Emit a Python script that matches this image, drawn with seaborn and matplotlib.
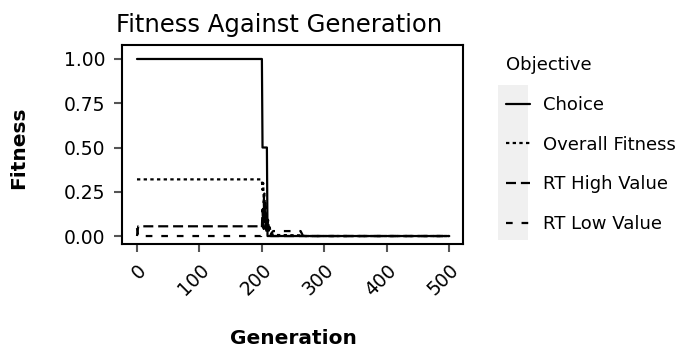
import numpy as np
import pandas as pd
import matplotlib
matplotlib.use("Agg")
import matplotlib.pyplot as plt
from matplotlib.patches import Rectangle
import seaborn as sns

# ---- data (breakpoints) ----
choice_gen = [0, 200, 201, 208, 209, 500]
choice_val = [1.0, 1.0, 0.5, 0.5, 0.0, 0.0]

overall_gen = [0, 199, 200, 201, 202, 203, 204, 205, 206, 207, 208, 209, 210, 211, 212, 214, 216, 220, 260, 270, 500]
overall_val = [0.32, 0.32, 0.31, 0.26, 0.30, 0.20, 0.24, 0.15, 0.19, 0.08, 0.12, 0.05, 0.09, 0.03, 0.06, 0.02, 0.01, 0.006, 0.004, 0.0, 0.0]

high_gen = [0, 2, 199, 200, 201, 202, 203, 204, 205, 206, 207, 208, 210, 212, 214, 500]
high_val = [0.0, 0.055, 0.055, 0.05, 0.15, 0.05, 0.20, 0.08, 0.17, 0.04, 0.10, 0.02, 0.06, 0.01, 0.0, 0.0]

low_gen = [0, 2, 199, 200, 201, 203, 205, 207, 209, 211, 213, 215, 218, 262, 266, 500]
low_val = [0.045, 0.0, 0.0, 0.02, 0.10, 0.04, 0.13, 0.03, 0.08, 0.02, 0.0, 0.015, 0.028, 0.028, 0.0, 0.0]

series_names = ["Choice", "Overall Fitness", "RT High Value", "RT Low Value"]
x_ticks = [0, 100, 200, 300, 400, 500]
y_ticks = [0.00, 0.25, 0.50, 0.75, 1.00]

frames = []
for name, g, v in zip(series_names,
                      [choice_gen, overall_gen, high_gen, low_gen],
                      [choice_val, overall_val, high_val, low_val]):
    frames.append(pd.DataFrame({"Generation": g, "Fitness": v, "Objective": name}))
df = pd.concat(frames, ignore_index=True)

sns.set_style("white")
plt.rcParams["font.family"] = ["DejaVu Sans"]
plt.rcParams["text.color"] = "black"
plt.rcParams["axes.labelcolor"] = "black"

W, H = 687, 347
fig = plt.figure(figsize=(W / 100, H / 100), dpi=100)
ax = fig.add_axes([122 / W, 1 - 244 / H, (463 - 122) / W, (244 - 45) / H])

dashes = {
    "Choice": "",
    "Overall Fitness": (1.5, 1.5),
    "RT High Value": (4.5, 2.2),
    "RT Low Value": (3.0, 4.0),
}
sns.lineplot(data=df, x="Generation", y="Fitness", style="Objective",
             style_order=series_names, dashes=dashes, color="black",
             estimator=None, sort=False, linewidth=1.6, ax=ax, legend=True)

ax.set_xlim(-24, 522)
ax.set_ylim(-0.045, 1.079)
ax.set_xticks(x_ticks)
ax.set_yticks(y_ticks)
ax.set_yticklabels([f"{t:.2f}" for t in y_ticks])
ax.tick_params(axis="both", which="major", labelsize=13.5, length=6, width=1.5,
               color="#555555", labelcolor="black", bottom=True, left=True)
ax.tick_params(axis="x", pad=6)
ax.tick_params(axis="y", pad=6)
for lab in ax.get_xticklabels():
    lab.set_rotation(45)
    lab.set_ha("right")
    lab.set_rotation_mode("anchor")
for sp in ax.spines.values():
    sp.set_color("black")
    sp.set_linewidth(1.5)

ax.set_xlabel("Generation", fontsize=14.5, fontweight="bold")
ax.set_ylabel("Fitness", fontsize=14.5, fontweight="bold")
ax.xaxis.set_label_coords((293 - 122) / (463 - 122), -(339 - 244) / (244 - 45))
ax.xaxis.label.set_va("center")
ax.yaxis.set_label_coords(-(122 - 19) / (463 - 122), (244 - 148) / (244 - 45))
ax.yaxis.label.set_va("center")

fig.text(279 / W, 1 - 25 / H, "Fitness Against Generation", fontsize=17.5,
         ha="center", va="center")

# legend
handles, labels = ax.get_legend_handles_labels()
ax.get_legend().remove()
fig.patches.append(Rectangle((498 / W, 1 - 240 / H), 30 / W, 155 / H,
                             transform=fig.transFigure, facecolor="#f0f0f0",
                             edgecolor="none", zorder=0))
leg = fig.legend(handles, labels, title="Objective", loc="upper left",
                 bbox_to_anchor=(490 / W, 1 - 40 / H), frameon=False,
                 fontsize=13, title_fontsize=13, handlelength=1.3,
                 labelspacing=1.2, handletextpad=0.75, alignment="left")

fig.savefig("out.png", dpi=100)
